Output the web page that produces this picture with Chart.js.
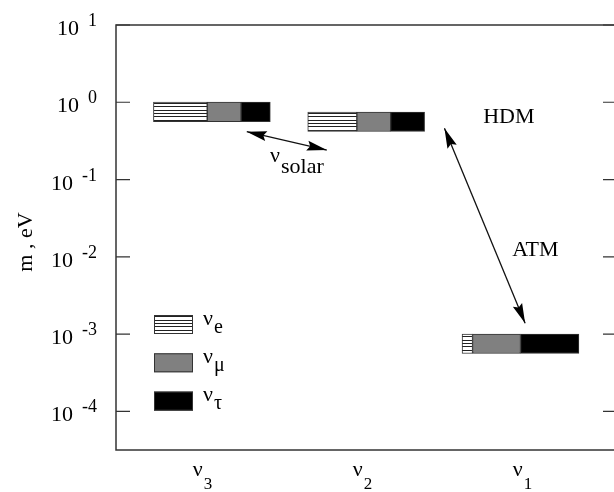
<!DOCTYPE html>
<html>
<head>
<meta charset="utf-8">
<script src="https://cdn.jsdelivr.net/npm/chart.js@4.4.0/dist/chart.umd.min.js"></script>
<style>
  html, body { margin: 0; padding: 0; overflow: hidden; background: #fff; }
  canvas { display: block; }
</style>
</head>
<body>
<canvas id="massChart" width="620" height="492"></canvas>
<script>
// mass eigenstates, left to right (subscript of nu)
const states = ['3', '2', '1'];
// mass of each state, eV
const massEV = [0.75, 0.56, 7.5e-4];
// flavour content of each state
const shareE = [0.46, 0.42, 0.09];
const shareMu = [0.29, 0.29, 0.41];
const shareTau = [0.25, 0.29, 0.50];
const flavours = ['e', 'μ', 'τ'];
// decade ticks on the mass axis
const massTicks = [1e-4, 1e-3, 1e-2, 1e-1, 1, 10];
const tickExponents = ['-4', '-3', '-2', '-1', '0', '1'];

const FONT = "'Liberation Serif', 'Times New Roman', serif";
const BAR_START = 0.694, BAR_STEP = 0.964, BAR_WIDTH = 0.73;

// arrows and labels, in axis units
const arrows = [
    { from: [1.277, 0.417], to: [1.777, 0.241] },
    { from: [2.512, 0.461], to: [3.016, 1.38e-3] }
];
const notes = [
    { text: 'HDM', at: [2.754, 0.544] },
    { text: 'ATM', at: [2.935, 0.0101] }
];

function hatch() {
    const c = document.createElement('canvas');
    c.width = 8;
    c.height = 10;
    const g = c.getContext('2d');
    g.fillStyle = '#fff';
    g.fillRect(0, 0, 8, 10);
    g.fillStyle = '#222';
    [0, 3, 6].forEach(r => g.fillRect(0, r, 8, 1));
    return g.createPattern(c, 'repeat');
}

function segments(share, before) {
    return massEV.map((m, i) => {
        const x0 = BAR_START + i * BAR_STEP + before[i] * BAR_WIDTH;
        return { y: m, x: [x0, x0 + share[i] * BAR_WIDTH] };
    });
}

// nu with a lowered index, left aligned at x
function nuLabel(ctx, sub, x, base, drop, size, subSize) {
    ctx.textAlign = 'left';
    ctx.font = `${size}px ${FONT}`;
    ctx.fillText('ν', x, base);
    const w = ctx.measureText('ν').width;
    ctx.font = `${subSize}px ${FONT}`;
    ctx.fillText(sub, x + w + 1, base + drop);
    return w + 1 + ctx.measureText(sub).width;
}

function arrowHead(ctx, x1, y1, x2, y2) {
    const ang = Math.atan2(y2 - y1, x2 - x1);
    const len = 20, half = 5;
    const c = Math.cos(ang), s = Math.sin(ang);
    ctx.beginPath();
    ctx.moveTo(x2, y2);
    ctx.lineTo(x2 - len * c + half * s, y2 - len * s - half * c);
    ctx.lineTo(x2 - len * 0.85 * c, y2 - len * 0.85 * s);
    ctx.lineTo(x2 - len * c - half * s, y2 - len * s + half * c);
    ctx.closePath();
    ctx.fill();
}

const overlay = {
    id: 'overlay',
    afterDraw(chart) {
        const { ctx, chartArea: a, scales: { x, y } } = chart;
        ctx.save();
        ctx.strokeStyle = '#333';
        ctx.fillStyle = '#000';

        // frame and inward ticks
        ctx.lineWidth = 1.5;
        ctx.strokeRect(a.left, a.top, a.right - a.left, a.bottom - a.top);
        ctx.lineWidth = 1.2;
        ctx.textBaseline = 'alphabetic';
        massTicks.forEach((v, i) => {
            const py = y.getPixelForValue(v);
            ctx.beginPath();
            ctx.moveTo(a.left, py);
            ctx.lineTo(a.left + 14, py);
            ctx.moveTo(a.right - 14, py);
            ctx.lineTo(a.right, py);
            ctx.stroke();

            ctx.textAlign = 'right';
            ctx.font = `18px ${FONT}`;
            const ew = ctx.measureText(tickExponents[i]).width;
            ctx.fillText(tickExponents[i], 97, py + 1);
            ctx.font = `22px ${FONT}`;
            ctx.fillText('10', 97 - ew - 9, py + 10);
        });

        // state labels under the axis
        ctx.font = `22px ${FONT}`;
        const nuW = ctx.measureText('ν').width;
        states.forEach((s, i) => {
            const cx = x.getPixelForValue(i + 1);
            ctx.font = `17px ${FONT}`;
            const total = nuW + 1 + ctx.measureText(s).width;
            nuLabel(ctx, s, cx - total / 2, 475.5, 13, 22, 17);
        });

        // axis title
        ctx.save();
        ctx.translate(26, 242);
        ctx.rotate(-Math.PI / 2);
        ctx.textAlign = 'center';
        ctx.textBaseline = 'middle';
        ctx.font = `22px ${FONT}`;
        ctx.fillText('m , eV', 0, 0);
        ctx.restore();

        // flavour key
        chart.data.datasets.forEach((ds, k) => {
            const bx = a.left + 38, by = a.top + 290 + k * 38.3;
            ctx.fillStyle = ds.backgroundColor;
            ctx.fillRect(bx, by, 39, 19);
            ctx.lineWidth = 1;
            ctx.strokeRect(bx + 0.5, by + 0.5, 38, 18);
            ctx.fillStyle = '#000';
            nuLabel(ctx, flavours[k], bx + 49, by + 9.5, 8, 22, 20);
        });

        // oscillation arrows
        ctx.lineWidth = 1.3;
        ctx.strokeStyle = '#111';
        arrows.forEach(ar => {
            const x1 = x.getPixelForValue(ar.from[0]), y1 = y.getPixelForValue(ar.from[1]);
            const x2 = x.getPixelForValue(ar.to[0]), y2 = y.getPixelForValue(ar.to[1]);
            ctx.beginPath();
            ctx.moveTo(x1, y1);
            ctx.lineTo(x2, y2);
            ctx.stroke();
            arrowHead(ctx, x1, y1, x2, y2);
            arrowHead(ctx, x2, y2, x1, y1);
        });

        ctx.font = `22px ${FONT}`;
        ctx.textAlign = 'left';
        notes.forEach(n => {
            ctx.fillText(n.text, x.getPixelForValue(n.at[0]), y.getPixelForValue(n.at[1]));
        });
        nuLabel(ctx, 'solar', x.getPixelForValue(1.4225), y.getPixelForValue(0.169), 11, 22, 22);
        ctx.restore();
    }
};

const zeros = massEV.map(() => 0);
const beforeTau = shareE.map((v, i) => v + shareMu[i]);

new Chart(document.getElementById('massChart'), {
    type: 'bar',
    data: {
        datasets: [
            { label: 'e', data: segments(shareE, zeros), backgroundColor: hatch() },
            { label: 'μ', data: segments(shareMu, shareE), backgroundColor: '#808080' },
            { label: 'τ', data: segments(shareTau, beforeTau), backgroundColor: '#000' }
        ]
    },
    options: {
        indexAxis: 'y',
        responsive: false,
        animation: false,
        layout: { padding: { top: 25, right: 3, left: 0, bottom: 0 } },
        datasets: {
            bar: {
                grouped: false,
                barThickness: 19.5,
                borderWidth: 1,
                borderColor: '#333',
                borderSkipped: false
            }
        },
        plugins: {
            legend: { display: false },
            tooltip: { enabled: false }
        },
        scales: {
            x: {
                type: 'linear',
                min: 0.46,
                max: 3.59,
                grid: { display: false },
                border: { display: false },
                ticks: { display: false },
                afterBuildTicks: s => { s.ticks = [1, 2, 3].map(v => ({ value: v })); },
                afterFit: s => { s.height = 42; }
            },
            y: {
                type: 'logarithmic',
                offset: false,
                min: Math.pow(10, -4.5),
                max: 10,
                grid: { display: false },
                border: { display: false },
                ticks: { display: false },
                afterBuildTicks: s => { s.ticks = massTicks.map(v => ({ value: v })); },
                afterFit: s => { s.width = 116; }
            }
        }
    },
    plugins: [overlay]
});
</script>
</body>
</html>
